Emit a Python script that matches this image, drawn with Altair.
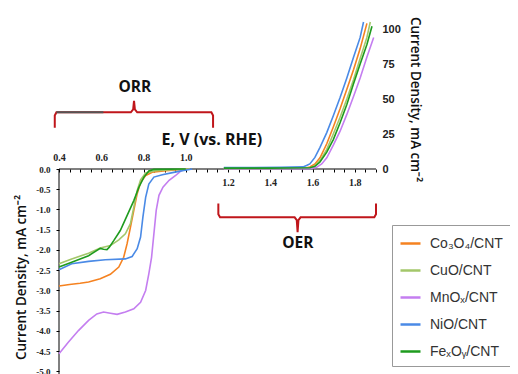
import altair as alt
import pandas as pd

# ---------------- data ----------------
SERIES = ["Co₃O₄/CNT", "CuO/CNT", "MnOₓ/CNT", "NiO/CNT", "FeₓOᵧ/CNT"]
COLORS = ["#F58220", "#A3C76A", "#C47EF0", "#4A8AE6", "#1E9B1E"]

# ORR branch (E in V vs RHE, current density mA cm-2)
orr_co_v = [0.40, 0.45, 0.50, 0.54, 0.595, 0.643, 0.683, 0.706, 0.722, 0.738, 0.754, 0.770, 0.786, 0.81, 0.841, 0.905, 0.968, 1.02]
orr_co_j = [-2.89, -2.85, -2.82, -2.79, -2.71, -2.60, -2.42, -2.18, -1.85, -1.44, -1.02, -0.61, -0.33, -0.16, -0.08, -0.04, -0.02, 0.0]

orr_cu_v = [0.40, 0.46, 0.54, 0.595, 0.643, 0.683, 0.714, 0.738, 0.754, 0.770, 0.786, 0.81, 0.857, 0.937, 1.02]
orr_cu_j = [-2.34, -2.22, -2.08, -1.95, -1.89, -1.75, -1.60, -1.35, -0.94, -0.53, -0.27, -0.10, -0.04, -0.02, 0.0]

orr_mn_v = [0.40, 0.444, 0.492, 0.54, 0.579, 0.611, 0.643, 0.675, 0.714, 0.754, 0.786, 0.81, 0.825, 0.838, 0.849, 0.86, 0.873, 0.892, 0.921, 0.952, 0.976, 1.0]
orr_mn_j = [-4.56, -4.28, -3.99, -3.74, -3.58, -3.53, -3.56, -3.59, -3.53, -3.45, -3.29, -3.0, -2.59, -2.18, -1.60, -1.02, -0.65, -0.45, -0.28, -0.16, -0.05, 0.0]

orr_ni_v = [0.40, 0.46, 0.54, 0.619, 0.714, 0.746, 0.77, 0.786, 0.797, 0.81, 0.825, 0.849, 0.889, 0.937, 0.984, 1.03]
orr_ni_j = [-2.49, -2.34, -2.28, -2.24, -2.22, -2.16, -1.97, -1.68, -1.19, -0.70, -0.37, -0.20, -0.14, -0.09, -0.04, 0.0]

orr_fe_v = [0.40, 0.46, 0.54, 0.595, 0.611, 0.627, 0.638, 0.659, 0.69, 0.722, 0.754, 0.778, 0.802, 0.825, 0.849, 1.0]
orr_fe_j = [-2.42, -2.30, -2.14, -1.96, -1.98, -1.99, -1.93, -1.77, -1.52, -1.15, -0.78, -0.45, -0.20, -0.05, -0.01, 0.0]

# OER branch
oer_co_v = [1.18, 1.40, 1.571, 1.587, 1.611, 1.635, 1.667, 1.698, 1.73, 1.762, 1.794, 1.825, 1.857]
oer_co_j = [0.5, 0.5, 0.8, 1.5, 3.6, 8, 18, 30, 43, 57, 71, 86, 104]

oer_cu_v = [1.18, 1.40, 1.587, 1.611, 1.635, 1.667, 1.698, 1.73, 1.762, 1.794, 1.825, 1.857, 1.873]
oer_cu_j = [0.3, 0.3, 0.6, 2.4, 6, 14, 25, 37, 50, 64, 79, 94, 105]

oer_mn_v = [1.18, 1.40, 1.587, 1.619, 1.643, 1.667, 1.698, 1.73, 1.762, 1.794, 1.825, 1.857, 1.889]
oer_mn_j = [0.2, 0.2, 0.3, 1.2, 3.6, 8, 17, 27, 39, 52, 65, 80, 94]

oer_ni_v = [1.18, 1.30, 1.45, 1.555, 1.571, 1.587, 1.611, 1.635, 1.667, 1.698, 1.73, 1.762, 1.794, 1.825, 1.841]
oer_ni_j = [1.0, 1.0, 1.2, 1.5, 2.5, 3.6, 8.3, 15.5, 26, 38, 51, 65, 80, 94, 105]

oer_fe_v = [1.18, 1.40, 1.587, 1.611, 1.635, 1.667, 1.698, 1.73, 1.762, 1.794, 1.825, 1.857, 1.881]
oer_fe_j = [0.6, 0.6, 0.9, 1.9, 5, 12, 21, 33, 46, 61, 75, 89, 102]

ORR_TICKS = [0.4, 0.6, 0.8, 1.0]
OER_TICK_STEPS = [round(0.4 + 0.05 * k, 2) for k in range(31)]
ORR_Y_TICKS = [0.0, -0.5, -1.0, -1.5, -2.0, -2.5, -3.0, -3.5, -4.0, -4.5, -5.0]
OER_Y_TICKS = [0, 25, 50, 75, 100]

# annotation braces (in ORR coordinates)
brace_orr_x = [0.380, 0.380, 0.388, 0.740, 0.751, 0.755, 0.759, 0.770, 1.121, 1.129, 1.129]
brace_orr_y = [1.02, 1.32, 1.40, 1.40, 1.47, 1.68, 1.47, 1.40, 1.40, 1.32, 1.02]
brace_oer_x = [1.154, 1.154, 1.162, 1.515, 1.525, 1.529, 1.533, 1.543, 1.892, 1.900, 1.900]
brace_oer_y = [-0.85, -1.12, -1.193, -1.193, -1.26, -1.56, -1.26, -1.193, -1.193, -1.12, -0.85]
gray_x = [0.388, 0.61]
gray_y = [1.40, 1.40]

ann_text = ["ORR", "E, V (vs. RHE)", "OER"]
ann_x = [0.759, 1.123, 1.530]
ann_y = [2.03, 0.72, -1.83]
ann_size = [15.5, 16, 15.5]

# ---------------- frames ----------------
def long(pairs):
    rows = []
    for name, vs, js in pairs:
        for i, (v, j) in enumerate(zip(vs, js)):
            rows.append({"series": name, "V": v, "j": j, "idx": i})
    return pd.DataFrame(rows)

orr_df = long([(SERIES[0], orr_co_v, orr_co_j), (SERIES[1], orr_cu_v, orr_cu_j),
               (SERIES[2], orr_mn_v, orr_mn_j), (SERIES[3], orr_ni_v, orr_ni_j),
               (SERIES[4], orr_fe_v, orr_fe_j)])
oer_df = long([(SERIES[0], oer_co_v, oer_co_j), (SERIES[1], oer_cu_v, oer_cu_j),
               (SERIES[2], oer_mn_v, oer_mn_j), (SERIES[3], oer_ni_v, oer_ni_j),
               (SERIES[4], oer_fe_v, oer_fe_j)])

brace_df = pd.DataFrame(
    [{"g": "orr", "x": x, "y": y, "idx": i} for i, (x, y) in enumerate(zip(brace_orr_x, brace_orr_y))]
    + [{"g": "oer", "x": x, "y": y, "idx": i} for i, (x, y) in enumerate(zip(brace_oer_x, brace_oer_y))]
)
gray_df = pd.DataFrame({"x": gray_x, "y": gray_y, "idx": [0, 1]})
text_df = pd.DataFrame({"t": ann_text, "x": ann_x, "y": ann_y, "s": ann_size})
xline_df = pd.DataFrame({"x": [0.4], "x2": [1.9], "y": [0.0]})
yline_df = pd.DataFrame({"x": [0.4], "y": [0.0], "y2": [-5.062]})

# ---------------- scales & axes ----------------
XS = alt.Scale(domain=[0.4, 1.9], nice=False, zero=False)
YS_ORR = alt.Scale(domain=[-5.062, 3.778], nice=False, zero=False)
YS_OER = alt.Scale(domain=[-146.43, 109.29], nice=False, zero=False)
CS = alt.Scale(domain=SERIES, range=COLORS)

TITLE = "Current Density, mA cm⁻²"

ORR_XAXIS = alt.Axis(
    orient="top", offset=-153, values=ORR_TICKS, format=".1f",
    ticks=False, tickSize=0, domain=False, grid=False, labelPadding=7,
    labelFont="Liberation Serif", labelFontWeight="bold", labelFontSize=10,
    labelColor="#222", title=None, labelFlush=False)
ORR_YAXIS = alt.Axis(
    orient="left", values=ORR_Y_TICKS,
    labelExpr="replace(format(datum.value, '.1f'), '−', '-')",
    domain=False, grid=False, tickSize=3, tickColor="black", labelPadding=6,
    labelFont="Liberation Serif", labelFontWeight="bold", labelFontSize=9,
    labelColor="#222", labelOverlap=False,
    title=TITLE, titleAngle=270, titleX=-37.5, titleY=261,
    titleAlign="center", titleBaseline="middle",
    titleFont="Open Sans", titleFontSize=13.5, titleFontWeight=600, titleColor="#111")

legend = alt.Legend(
    orient="none", legendX=333, legendY=209, title=None,
    symbolType="stroke", symbolSize=400, symbolStrokeWidth=2.5,
    labelFont="Liberation Sans", labelFontSize=14, labelColor="#333",
    labelOffset=8, padding=7, rowPadding=8, strokeColor="#999",
    fillColor="white", labelLimit=200,
)

def ox(field):
    return alt.X(field, scale=XS, axis=ORR_XAXIS)

def oy(field):
    return alt.Y(field, scale=YS_ORR, axis=ORR_YAXIS)

# ---------------- ORR group ----------------
xline = alt.Chart(xline_df).mark_rule(color="black", strokeWidth=1).encode(
    x=ox("x:Q"), x2="x2:Q", y=oy("y:Q"),
)
yline = alt.Chart(yline_df).mark_rule(color="black", strokeWidth=1).encode(
    x=ox("x:Q"), y=oy("y:Q"), y2="y2:Q",
)

orr_lines = alt.Chart(orr_df).mark_line(strokeWidth=1.6).encode(
    x=ox("V:Q"), y=oy("j:Q"),
    color=alt.Color("series:N", scale=CS, legend=legend),
    order="idx:Q",
)

braces = alt.Chart(brace_df).mark_line(color="#C0161B", strokeWidth=2).encode(
    x=ox("x:Q"), y=oy("y:Q"), detail="g:N", order="idx:Q",
)
gray = alt.Chart(gray_df).mark_line(color="#555555", strokeWidth=2).encode(
    x=ox("x:Q"), y=oy("y:Q"), order="idx:Q",
)
texts = alt.Chart(text_df).mark_text(font="Open Sans", fontWeight="bold", color="#111",
                                     align="center", baseline="middle").encode(
    x=ox("x:Q"), y=oy("y:Q"),
    text="t:N", size=alt.Size("s:Q", scale=None),
)

orr_group = alt.layer(xline, yline, orr_lines, braces, gray, texts)

# ---------------- OER group ----------------
oer_lines = alt.Chart(oer_df).mark_line(strokeWidth=1.6).encode(
    x=alt.X("V:Q", scale=XS, axis=alt.Axis(
        orient="bottom", offset=-205, values=OER_TICK_STEPS,
        labelExpr="datum.value > 1.1 && round(datum.value*100) % 20 == 0 ? format(datum.value, '.1f') : ''",
        tickSize=3, tickColor="black", domain=False, grid=False, labelPadding=5,
        labelFont="Liberation Serif", labelFontWeight="bold", labelFontSize=10,
        labelColor="#222", labelOverlap=False, labelFlush=False, title=None)),
    y=alt.Y("j:Q", scale=YS_OER, axis=alt.Axis(
        orient="right", values=OER_Y_TICKS, domain=False, ticks=False, tickSize=0,
        grid=False, labelPadding=6, labelFont="Liberation Sans", labelFontWeight="bold",
        labelFontSize=11, labelColor="#222",
        title=TITLE, titleAngle=90, titleX=38, titleY=83,
        titleAlign="center", titleBaseline="middle",
        titleFont="Open Sans", titleFontSize=13.5, titleFontWeight=600, titleColor="#111")),
    color=alt.Color("series:N", scale=CS, legend=legend),
    order="idx:Q",
)

chart = alt.layer(orr_group, oer_lines).resolve_scale(
    x="independent", y="independent", color="shared"
).properties(
    width=317, height=358,
    autosize=alt.AutoSizeParams(type="none"),
    padding={"left": 51, "top": 8, "right": 134, "bottom": 0},
    background="white",
).configure_view(stroke=None)

chart.save("out.html", embed_options={"renderer": "svg", "actions": False})
